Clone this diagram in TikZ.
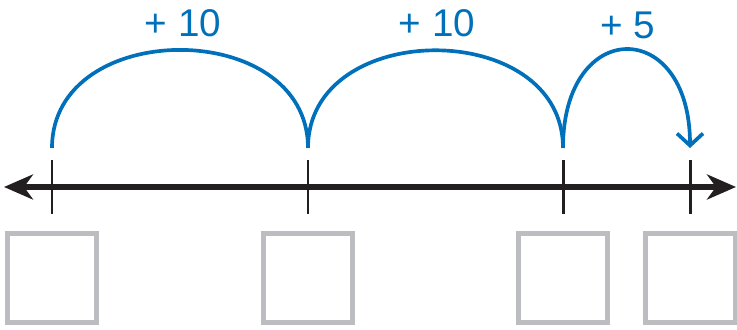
\documentclass[tikz,border=0pt]{standalone}
\usepackage{fontspec}
\setmainfont{Liberation Sans}
\usepackage{tikz}
\usetikzlibrary{arrows.meta,positioning}

\definecolor{jumpblue}{RGB}{0,112,186}
\definecolor{boxgray}{RGB}{188,189,193}
\definecolor{lineblack}{RGB}{35,31,32}

\begin{document}
\begin{tikzpicture}[
                x=0.02cm, y=0.02cm,
                font=\fontsize{22pt}{26pt}\selectfont,
                numline/.style={{Stealth[length=5.8mm,width=5mm,inset=1.8mm]}-{Stealth[length=5.8mm,width=5mm,inset=1.8mm]}, line width=3.6pt, draw=lineblack},
                tick/.style={line width=1.7pt, draw=lineblack},
                jump/.style={line width=2.1pt, draw=jumpblue},
                answer/.style={rectangle, draw=boxgray, line width=0.1cm, minimum size=1.8cm, inner sep=0pt},
                lbl/.style={text=jumpblue, inner sep=0pt},
            ]
            \useasboundingbox (0,0) rectangle (737,330);
            % number line
            \coordinate (left) at (4,143);
            \coordinate (right) at (736,143);
            \draw[numline] (left) -- (right);
            % ticks and answer boxes
            \foreach \i/\x in {0/52,1/308,2/563,3/690} {
                \coordinate (top\i) at (\x,170);
                \coordinate (bot\i) at (\x,116);
                \coordinate (hop\i) at (\x,182);
                \draw[tick] (top\i) -- (bot\i);
                \node[answer] (box\i) at (\x,52) {};
            }
            % jumps
            \draw[jump] (hop0) to[out=90,in=90,looseness=1.31] (hop1);
            \draw[jump] (hop1) to[out=90,in=90,looseness=1.31] (hop2);
            \draw[jump,-{Straight Barb[length=2.4mm,width=5.2mm]}] (hop2) to[out=90,in=90,looseness=2.65] (hop3);
            \node[lbl] (plus1) at (183,307) {+ 10};
            \node[lbl] (plus2) at (437,307) {+ 10};
            \node[lbl] (plus3) at (628,305) {+ 5};
        \end{tikzpicture}
\end{document}
